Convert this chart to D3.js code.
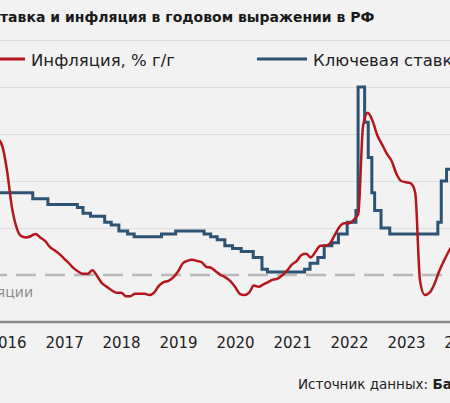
<!DOCTYPE html>
<html>
<head>
<meta charset="utf-8">
<script src="https://cdn.jsdelivr.net/npm/d3@7"></script>
<style>
  body { margin: 0; background: #f2f2f2; }
  svg { display: block; font-family: "DejaVu Sans", sans-serif; }
</style>
</head>
<body>
<svg id="chart" width="450" height="403"></svg>
<script>
// inflation, % y/y, one value per month (Jan..Dec)
var infl2015 = [15.0, 16.7, 16.9, 16.4, 15.8, 15.3, 15.6, 15.8, 15.7, 15.6, 15.0, 12.9];
var infl2016 = [9.8, 8.1, 7.3, 7.2, 7.3, 7.5, 7.2, 6.9, 6.4, 6.1, 5.8, 5.4];
var infl2017 = [5.0, 4.6, 4.3, 4.1, 4.1, 4.4, 3.9, 3.3, 3.0, 2.7, 2.5, 2.5];
var infl2018 = [2.2, 2.2, 2.4, 2.4, 2.4, 2.3, 2.5, 3.1, 3.4, 3.5, 3.8, 4.3];
var infl2019 = [5.0, 5.2, 5.3, 5.2, 5.1, 4.7, 4.6, 4.3, 4.0, 3.8, 3.5, 3.0];
var infl2020 = [2.4, 2.3, 2.5, 3.1, 3.0, 3.2, 3.4, 3.6, 3.7, 4.0, 4.4, 4.9];
var infl2021 = [5.2, 5.7, 5.8, 5.5, 6.0, 6.5, 6.5, 6.7, 7.4, 8.1, 8.4, 8.4];
var infl2022 = [8.7, 9.2, 16.7, 17.8, 17.1, 15.9, 15.1, 14.3, 13.7, 12.6, 12.0, 11.9];
var infl2023 = [11.8, 11.0, 3.5, 2.3, 2.5, 3.2, 4.3, 5.2, 6.0, 6.7, 7.5, 7.4];
var inflYears = [2015, 2016, 2017, 2018, 2019, 2020, 2021, 2022, 2023];

// key rate, % (date of change, new level)
var rateDates = ["2015-06-16", "2015-08-03", "2016-06-14", "2016-09-19", "2017-03-27", "2017-05-02",
  "2017-06-19", "2017-09-18", "2017-10-30", "2017-12-18", "2018-02-12", "2018-03-26", "2018-09-17",
  "2018-12-17", "2019-06-17", "2019-07-29", "2019-09-09", "2019-10-28", "2019-12-16", "2020-02-10",
  "2020-04-27", "2020-06-22", "2020-07-27", "2021-03-22", "2021-04-26", "2021-06-15", "2021-07-26",
  "2021-09-13", "2021-10-25", "2021-12-20", "2022-02-14", "2022-02-28", "2022-04-11", "2022-05-04",
  "2022-05-27", "2022-06-14", "2022-07-25", "2022-09-19", "2023-07-24", "2023-08-15", "2023-09-18",
  "2023-10-30", "2023-12-18", "2024-01-31"];
var rateValues = [11.5, 11, 10.5, 10, 9.75, 9.25,
  9, 8.5, 8.25, 7.75, 7.5, 7.25, 7.5,
  7.75, 7.5, 7.25, 7, 6.5, 6.25, 6,
  5.5, 4.5, 4.25, 4.5, 5, 5.5, 6.5,
  6.75, 7.5, 8.5, 9.5, 20, 17, 14,
  11, 9.5, 8, 7.5, 8.5, 12, 13,
  15, 16, 16];

var yTicks = [0, 4, 8, 12, 16, 20, 24];
var targetLevel = 4;
var yearTicks = [2016, 2017, 2018, 2019, 2020, 2021, 2022, 2023, 2024];

var svg = d3.select('#chart');
var width = 450;

var x = d3.scaleTime()
  .domain([new Date(2016, 0, 1), new Date(2023, 0, 1)])
  .range([7, 406]);
var y = d3.scaleLinear().domain([0, 24]).range([322, 40]);

var inflation = [];
inflYears.forEach(function(yr) {
  var vals = window['infl' + yr];
  vals.forEach(function(v, m) {
    inflation.push({ date: new Date(yr, m + 1, 1), v: v });
  });
});
var rate = rateDates.map(function(d, i) {
  return { date: d3.timeParse('%Y-%m-%d')(d), v: rateValues[i] };
});

// grid
svg.append('g')
  .attr('class', 'grid')
  .call(d3.axisRight(y).tickValues(yTicks.filter(function(t) { return t !== 0 && t !== targetLevel; }))
    .tickSize(width).tickFormat(''))
  .call(function(g) { g.select('.domain').remove(); })
  .selectAll('line')
  .attr('stroke', '#dedede')
  .attr('stroke-width', 1);

// target line
svg.append('line')
  .attr('x1', 0).attr('x2', width)
  .attr('y1', y(targetLevel)).attr('y2', y(targetLevel))
  .attr('stroke', '#b9b9b9')
  .attr('stroke-width', 2.5)
  .attr('stroke-dasharray', '20,9')
  .attr('stroke-dashoffset', 13);

// x axis
var xAxis = svg.append('g')
  .attr('transform', 'translate(0,' + y(0) + ')')
  .call(d3.axisBottom(x).tickValues(yearTicks.map(function(t) { return new Date(t, 0, 1); }))
    .tickSize(0).tickPadding(15).tickFormat(d3.timeFormat('%Y')));
xAxis.select('.domain').remove();
xAxis.selectAll('text')
  .attr('font-family', '"DejaVu Sans", sans-serif')
  .attr('font-size', 15)
  .attr('fill', '#222');
svg.append('line')
  .attr('x1', 0).attr('x2', width)
  .attr('y1', y(0)).attr('y2', y(0))
  .attr('stroke', '#8a8a8a')
  .attr('stroke-width', 2.5);

// series
svg.append('path')
  .datum(rate)
  .attr('fill', 'none')
  .attr('stroke', '#2c5274')
  .attr('stroke-width', 3)
  .attr('d', d3.line().x(function(d) { return x(d.date); }).y(function(d) { return y(d.v); })
    .curve(d3.curveStepAfter));

svg.append('path')
  .datum(inflation)
  .attr('fill', 'none')
  .attr('stroke', '#b3161c')
  .attr('stroke-width', 2.5)
  .attr('d', d3.line().x(function(d) { return x(d.date); }).y(function(d) { return y(d.v); })
    .curve(d3.curveMonotoneX));

// target label
svg.append('text')
  .attr('x', 33).attr('y', 297)
  .attr('text-anchor', 'end')
  .attr('font-size', 14)
  .attr('fill', '#8c8c8c')
  .text('Цель по инфляции');

// title, its start is cut off at the left edge
var title = svg.append('text')
  .attr('y', 22)
  .attr('font-size', 14)
  .attr('font-weight', 'bold')
  .attr('fill', '#1a1a1a')
  .text('Ключевая ставка и инфляция в годовом выражении в РФ');
title.attr('x', -title.node().getSubStringLength(0, 10));

// legend
svg.append('line').attr('x1', -25).attr('x2', 25).attr('y1', 59).attr('y2', 59)
  .attr('stroke', '#b3161c').attr('stroke-width', 3);
svg.append('text').attr('x', 31).attr('y', 66).attr('font-size', 16.5).attr('fill', '#222')
  .text('Инфляция, % г/г');
svg.append('line').attr('x1', 257).attr('x2', 307).attr('y1', 59).attr('y2', 59)
  .attr('stroke', '#2c5274').attr('stroke-width', 3);
svg.append('text').attr('x', 313).attr('y', 66).attr('font-size', 16.5).attr('fill', '#222')
  .text('Ключевая ставка, %');

// source
var src = svg.append('text').attr('x', 298).attr('y', 389).attr('font-size', 13.5).attr('fill', '#222');
src.append('tspan').text('Источник данных: ');
src.append('tspan').attr('font-weight', 'bold').text('Банк России');
</script>
</body>
</html>
